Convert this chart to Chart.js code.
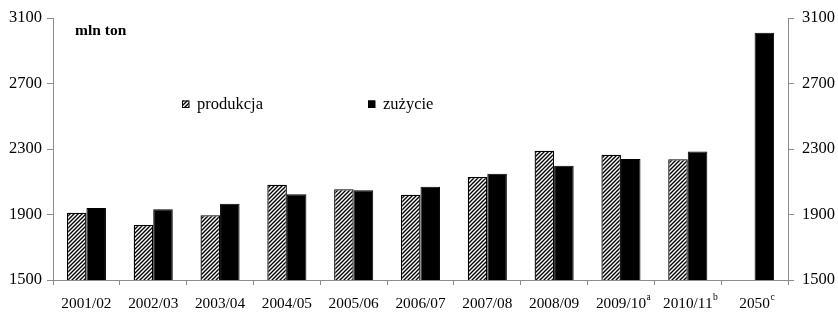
<!DOCTYPE html>
<html><head><meta charset="utf-8">
<script src="https://cdn.jsdelivr.net/npm/chart.js@4/dist/chart.umd.min.js"></script>
<style>html,body{margin:0;padding:0;background:#fff}#wrap{width:838px;height:314px}</style>
</head><body><div id="wrap"><canvas id="c" width="838" height="314"></canvas></div>
<script>
const categories = ['2001/02','2002/03','2003/04','2004/05','2005/06','2006/07','2007/08','2008/09','2009/10','2010/11','2050'];
const superscripts = ['','','','','','','','','a','b','c'];
const produkcja = [1911,1836,1895,2082,2054,2021,2129,2290,2265,2237,null];
const zuzycie   = [1940,1932,1966,2023,2048,2070,2149,2198,2239,2284,3010];
const seriesNames = ['produkcja','zużycie'];
const unitLabel = 'mln ton';
const yMin = 1500, yMax = 3100, yStep = 400;

const FONT = '"Liberation Serif","Times New Roman",serif';
const GREY = '#8c8c8c';

function makeHatch(){
  const t = document.createElement('canvas'); t.width = 4; t.height = 4;
  const g = t.getContext('2d');
  g.fillStyle = '#fff'; g.fillRect(0,0,4,4);
  g.strokeStyle = '#000'; g.lineWidth = 1.4;
  g.beginPath();
  g.moveTo(-1,5); g.lineTo(5,-1);
  g.moveTo(-1,1); g.lineTo(1,-1);
  g.moveTo(3,5); g.lineTo(5,3);
  g.stroke();
  return g.createPattern(t,'repeat');
}
const ctx = document.getElementById('c').getContext('2d');
const hatch = makeHatch();

const overlay = {
  id:'overlay',
  afterDraw(chart){
    const c = chart.ctx, xs = chart.scales.x;
    c.save();
    c.fillStyle = '#000';
    c.textBaseline = 'alphabetic';
    categories.forEach((lab,i)=>{
      const x = xs.getPixelForTick(i);
      c.font = '15.3px ' + FONT;
      const w = c.measureText(lab).width;
      c.textAlign = 'left';
      c.fillText(lab, x - w/2, 308);
      if (superscripts[i]) {
        c.font = '9.5px ' + FONT;
        c.fillText(superscripts[i], x + w/2 + 0.5, 300);
      }
    });
    c.font = 'bold 15.5px ' + FONT;
    c.textAlign = 'left';
    c.fillText(unitLabel, 75, 35);
    const items = [{x:182, fill:hatch, name:seriesNames[0]}, {x:368, fill:'#000', name:seriesNames[1]}];
    items.forEach(it=>{
      c.fillStyle = it.fill; c.fillRect(it.x, 100.5, 7, 7);
      c.strokeStyle = '#000'; c.lineWidth = 1; c.strokeRect(it.x+0.5, 101, 6.5, 6.5);
      c.fillStyle = '#000';
      c.font = '16.5px ' + FONT;
      c.fillText(it.name, it.x + 15, 109);
    });
    c.restore();
  }
};

const tickFmt = v => String(v);

new Chart(ctx, {
  type:'bar',
  data:{
    labels: categories,
    datasets:[
      {label:seriesNames[0], data:produkcja, backgroundColor:hatch, borderColor:'#000', borderWidth:1.3, yAxisID:'y'},
      {label:seriesNames[1], data:zuzycie, backgroundColor:'#000', borderColor:'#000', borderWidth:1, yAxisID:'y'}
    ]
  },
  options:{
    responsive:false, animation:false,
    layout:{padding:{top:18,left:0,right:0,bottom:0}},
    categoryPercentage:0.585, barPercentage:1.0,
    plugins:{legend:{display:false}, tooltip:{enabled:false}},
    scales:{
      x:{
        grid:{display:true, drawOnChartArea:false, drawTicks:true, tickLength:5, color:GREY, offset:true},
        border:{display:true, color:GREY, width:1},
        ticks:{display:false},
        afterFit(s){ s.height = 34; }
      },
      y:{
        position:'left', min:yMin, max:yMax,
        ticks:{stepSize:yStep, color:'#000', font:{family:FONT, size:16.5}, padding:5, callback:tickFmt},
        grid:{drawOnChartArea:false, drawTicks:true, tickLength:6, color:GREY},
        border:{display:true, color:GREY, width:1},
        afterFit(s){ s.width = 53; }
      },
      y2:{
        position:'right', min:yMin, max:yMax,
        ticks:{stepSize:yStep, color:'#000', font:{family:FONT, size:16.5}, padding:8, callback:tickFmt},
        grid:{drawOnChartArea:false, drawTicks:true, tickLength:6, color:GREY},
        border:{display:true, color:GREY, width:1},
        afterFit(s){ s.width = 50; }
      }
    }
  },
  plugins:[overlay]
});
</script></body></html>
